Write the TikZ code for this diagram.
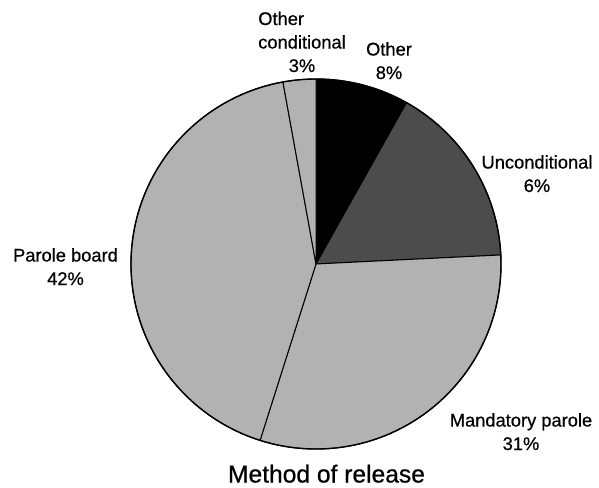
\documentclass[tikz,border=0pt]{standalone}
\usepackage{fontspec}
\setmainfont{Liberation Sans}
\newfontfamily\heavy{Liberation Sans}[FakeBold=0.6]
\begin{document}
\begin{tikzpicture}[x=1pt,y=-1pt,
  lbl/.style={inner sep=0pt, anchor=base, align=center, font=\heavy\fontsize{18.3}{23.5}\selectfont},
  ttl/.style={inner sep=0pt, anchor=base, font=\heavy\fontsize{24.6}{28}\selectfont},
  slice/.style={draw=black, line width=1pt, line join=round}]
\useasboundingbox (0,0) rectangle (599,487);
\fill[white] (0,0) rectangle (599,487);
\begin{scope}[shift={(316,264)}, y=1pt]
  \coordinate (c) at (0,0);
  \filldraw[slice, fill=black]   (c) -- (90:185)   arc[start angle=90,   end angle=60.7,   radius=185] -- cycle;
  \filldraw[slice, fill=black!70] (c) -- (60.7:185) arc[start angle=60.7, end angle=2.8,    radius=185] -- cycle;
  \filldraw[slice, fill=black!30] (c) -- (2.8:185)  arc[start angle=2.8,  end angle=-107.6, radius=185] -- cycle;
  \filldraw[slice, fill=black!30] (c) -- (-107.6:185) arc[start angle=-107.6, end angle=-259.7, radius=185] -- cycle;
  \filldraw[slice, fill=black!30] (c) -- (100.3:185) arc[start angle=100.3, end angle=90, radius=185] -- cycle;
  \draw[line width=1.4pt] (c) circle[radius=185];
\end{scope}
\node[lbl] (oc) at (302,72) {\makebox[4.78em][l]{Other}\\conditional\\3\%};
\node[lbl] (ot) at (389,79) {Other\\8\%};
\node[lbl] (un) at (537,192) {Unconditional\\6\%};
\node[lbl] (pb) at (65.5,285) {Parole board\\42\%};
\node[lbl] (mp) at (521,450) {Mandatory parole\\31\%};
\node[ttl] (title) at (326.5,482.5) {Method of release};
\end{tikzpicture}
\end{document}
